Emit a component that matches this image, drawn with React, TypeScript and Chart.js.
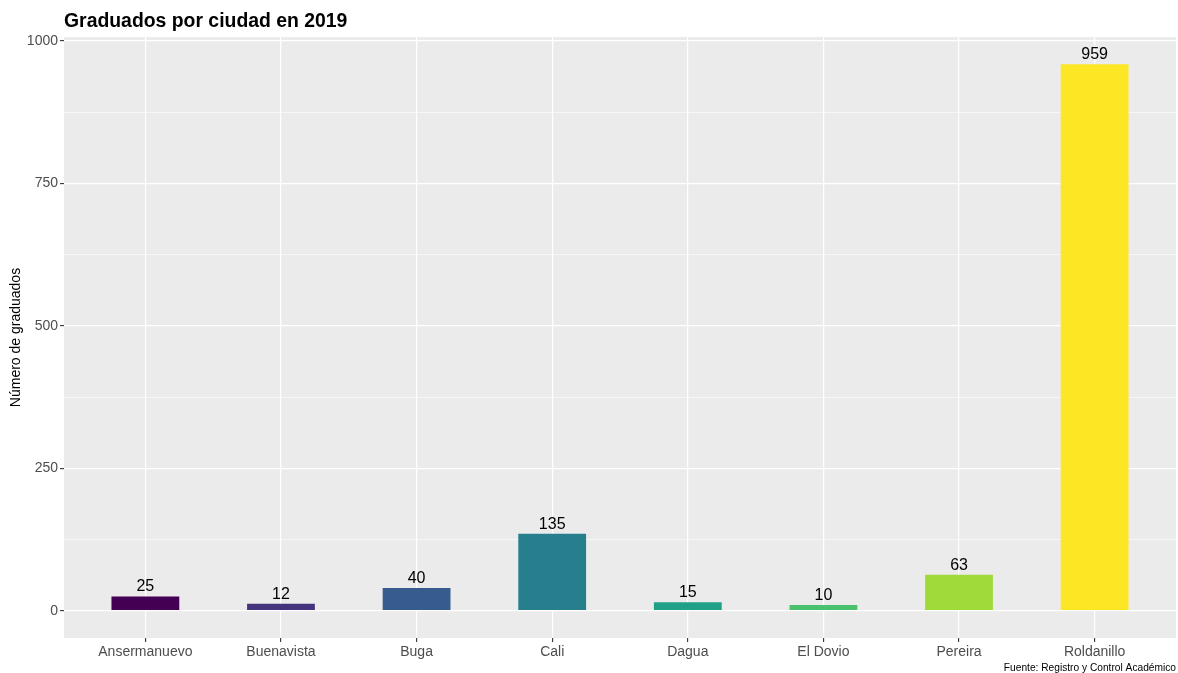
import React, { useEffect, useRef } from "react";
import { Chart, registerables } from "chart.js";

Chart.register(...registerables);

const cities = ["Ansermanuevo", "Buenavista", "Buga", "Cali", "Dagua", "El Dovio", "Pereira", "Roldanillo"];
const graduates = [25, 12, 40, 135, 15, 10, 63, 959];
const barColors = ["#440154", "#46337E", "#365C8D", "#277F8E", "#1FA187", "#4AC16D", "#9FDA3A", "#FDE725"];
const yMajorTicks = [0, 250, 500, 750, 1000];
const yMinorTicks = [125, 375, 625, 875];
const titleText = "Graduados por ciudad en 2019";
const yAxisTitle = "Número de graduados";
const captionText = "Fuente: Registro y Control Académico";

const FONT = "'Liberation Sans', Arial, Helvetica, sans-serif";

export default function App() {
  const canvasRef = useRef<HTMLCanvasElement | null>(null);

  useEffect(() => {
    document.body.style.margin = "0";
    const canvas = canvasRef.current;
    if (!canvas) return;

    const maxVal = Math.max(...graduates);
    const pad = maxVal * 0.05;

    const panelPlugin = {
      id: "panelBg",
      beforeDraw(chart: any) {
        const { ctx, chartArea } = chart;
        ctx.save();
        ctx.fillStyle = "#EBEBEB";
        ctx.fillRect(chartArea.left, chartArea.top, chartArea.right - chartArea.left, chartArea.bottom - chartArea.top);
        ctx.restore();
      },
      afterDraw(chart: any) {
        const { ctx, chartArea, width } = chart;
        ctx.save();
        ctx.fillStyle = "#000000";
        ctx.textBaseline = "alphabetic";
        ctx.textAlign = "left";
        ctx.font = `bold 19.4px ${FONT}`;
        ctx.fillText(titleText, chartArea.left, 27);
        ctx.textAlign = "right";
        ctx.font = `10.2px ${FONT}`;
        ctx.fillText(captionText, width - 2, 671);
        ctx.restore();
      },
    };

    const labelPlugin = {
      id: "barLabels",
      afterDatasetsDraw(chart: any) {
        const { ctx } = chart;
        const meta = chart.getDatasetMeta(0);
        ctx.save();
        ctx.fillStyle = "#000000";
        ctx.font = `16px ${FONT}`;
        ctx.textAlign = "center";
        ctx.textBaseline = "alphabetic";
        meta.data.forEach((bar: any, i: number) => {
          ctx.fillText(String(graduates[i]), bar.x, bar.y - 5);
        });
        ctx.restore();
      },
    };

    const isMinor = (v: number) => yMinorTicks.includes(v);

    const chart = new Chart(canvas, {
      type: "bar",
      data: {
        datasets: [
          {
            data: graduates.map((v, i) => ({ x: i, y: v })),
            backgroundColor: barColors,
            borderWidth: 0,
            barPercentage: 0.5,
            categoryPercentage: 1,
          },
        ],
      },
      options: {
        responsive: false,
        animation: false,
        layout: { padding: { top: 37, right: 2, left: 0, bottom: 0 } },
        plugins: {
          legend: { display: false },
          tooltip: { enabled: false },
          title: { display: false },
        },
        scales: {
          x: {
            type: "linear",
            offset: false,
            min: -0.6,
            max: cities.length - 1 + 0.6,
            afterBuildTicks: (scale: any) => {
              scale.ticks = cities.map((_, i) => ({ value: i }));
            },
            afterFit: (scale: any) => {
              scale.height = 35;
            },
            ticks: {
              callback: (v: any) => cities[v] ?? "",
              color: "#4D4D4D",
              font: { family: FONT, size: 14 },
              padding: 2,
              maxRotation: 0,
              autoSkip: false,
            },
            grid: {
              offset: false,
              color: "#FFFFFF",
              lineWidth: 1.2,
              drawTicks: true,
              tickLength: 4,
              tickColor: "#333333",
              tickWidth: 1.1,
            },
            border: { display: false },
          },
          y: {
            type: "linear",
            min: -pad,
            max: maxVal + pad,
            afterBuildTicks: (scale: any) => {
              scale.ticks = [...yMajorTicks, ...yMinorTicks].sort((a, b) => a - b).map((v) => ({ value: v }));
            },
            afterFit: (scale: any) => {
              scale.width = 64;
            },
            ticks: {
              callback: (v: any) => (isMinor(Number(v)) ? "" : String(v)),
              color: "#4D4D4D",
              font: { family: FONT, size: 14 },
              padding: 2,
              autoSkip: false,
            },
            grid: {
              color: "#FFFFFF",
              lineWidth: (ctx: any) => (isMinor(ctx.tick?.value) ? 0.6 : 1.2),
              drawTicks: true,
              tickLength: 4,
              tickColor: (ctx: any) => (isMinor(ctx.tick?.value) ? "rgba(0,0,0,0)" : "#333333"),
              tickWidth: 1.1,
            },
            border: { display: false },
            title: {
              display: true,
              text: yAxisTitle,
              color: "#000000",
              font: { family: FONT, size: 14 },
              padding: { top: 8, bottom: 0 },
            },
          },
        },
      },
      plugins: [panelPlugin, labelPlugin],
    } as any);

    return () => chart.destroy();
  }, []);

  return (
    <div style={{ width: 1178, height: 673, position: "relative" }}>
      <canvas ref={canvasRef} width={1178} height={673} style={{ display: "block" }} />
    </div>
  );
}
